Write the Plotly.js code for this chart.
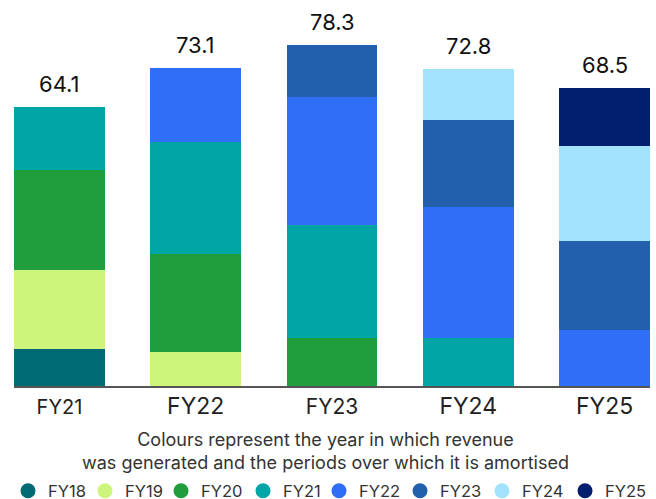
<!DOCTYPE html>
<html>
<head>
<meta charset="utf-8">
<script src="https://cdn.plot.ly/plotly-3.0.1.min.js"></script>
<style>html,body{margin:0;padding:0;background:#fff;}#chart{width:656px;height:499px;}</style>
</head>
<body>
<div id="chart"></div>
<script>
// Reporting years (x categories)
const categories = ["FY21", "FY22", "FY23", "FY24", "FY25"];
// Generation-year series (stack order bottom -> top)
const seriesNames = ["FY18", "FY19", "FY20", "FY21", "FY22", "FY23", "FY24", "FY25"];
const FY18 = [8.5, null, null, null, null];
const FY19 = [18.1, 7.8, null, null, null];
const FY20 = [23.1, 22.5, 11.1, null, null];
const FY21 = [14.4, 25.8, 25.8, 11.1, null];
const FY22 = [null, 17.0, 29.4, 30.0, 12.8];
const FY23 = [null, null, 12.0, 20.1, 20.6];
const FY24 = [null, null, null, 11.6, 21.8];
const FY25 = [null, null, null, null, 13.3];
const totals = [64.1, 73.1, 78.3, 72.8, 68.5];
const totalLabels = ["64.1", "73.1", "78.3", "72.8", "68.5"];
const caption = "Colours represent the year in which revenue<br>was generated and the periods over which it is amortised";

const seriesValues = [FY18, FY19, FY20, FY21, FY22, FY23, FY24, FY25];
const colors = ["#006a73", "#cdf57b", "#209e3d", "#00a6a6", "#2f6ef7", "#225fac", "#a2e2fd", "#011f6e"];
const tickSizes = [20, 23, 21, 23, 23];
const legendWidths = [32, 31, 37, 31, 36, 37, 38, 44];

const FONT = "Inter, 'Open Sans', sans-serif";
const traces = [];
seriesNames.forEach((name, i) => {
  traces.push({
    type: "bar", name: name, x: categories, y: seriesValues[i],
    marker: {color: colors[i], line: {width: 0}},
    showlegend: false, hoverinfo: "x+y+name"
  });
});
// legend entries drawn as circles
seriesNames.forEach((name, i) => {
  traces.push({
    type: "scatter", mode: "markers", name: name, x: [categories[0]], y: [null],
    marker: {color: colors[i], size: 15, symbol: "circle"},
    legendwidth: legendWidths[i],
    showlegend: true, hoverinfo: "skip"
  });
});

const annotations = categories.map((c, i) => ({
  x: c, y: totals[i], xref: "x", yref: "y", text: totalLabels[i],
  showarrow: false, yanchor: "bottom", yshift: 8,
  font: {family: FONT, size: 22, color: "#111"}
}));
annotations.push({
  xref: "paper", yref: "paper", x: 0.49, y: -0.1776, xanchor: "center", yanchor: "middle",
  text: caption, showarrow: false, align: "center",
  font: {family: FONT, size: 18, color: "#333"}
});

const layout = {
  width: 656, height: 499,
  margin: {l: 14, r: 6, t: 20, b: 113, autoexpand: false},
  paper_bgcolor: "#fff", plot_bgcolor: "#fff",
  barmode: "stack", bargap: 0.333,
  xaxis: {
    type: "category", range: [-0.3335, 4.3335],
    showline: true, linecolor: "#555", linewidth: 1.5,
    ticks: "", showgrid: false, zeroline: false,
    tickvals: categories,
    ticktext: categories.map((c, i) => `<span style="font-size:${tickSizes[i]}px">${c}</span>`),
    tickfont: {family: FONT, size: 22, color: "#222"},
    ticklabelstandoff: 0
  },
  yaxis: {range: [0, 84.1], visible: false, showgrid: false, zeroline: false},
  showlegend: true,
  legend: {
    orientation: "h", x: -0.0094, xanchor: "left", y: -0.2869, yanchor: "middle",
    font: {family: FONT, size: 16.5, color: "#333"},
    itemwidth: 30, tracegroupgap: 0, traceorder: "normal"
  },
  annotations: annotations
};
Plotly.newPlot("chart", traces, layout, {displayModeBar: false, staticPlot: true});
</script>
</body>
</html>
